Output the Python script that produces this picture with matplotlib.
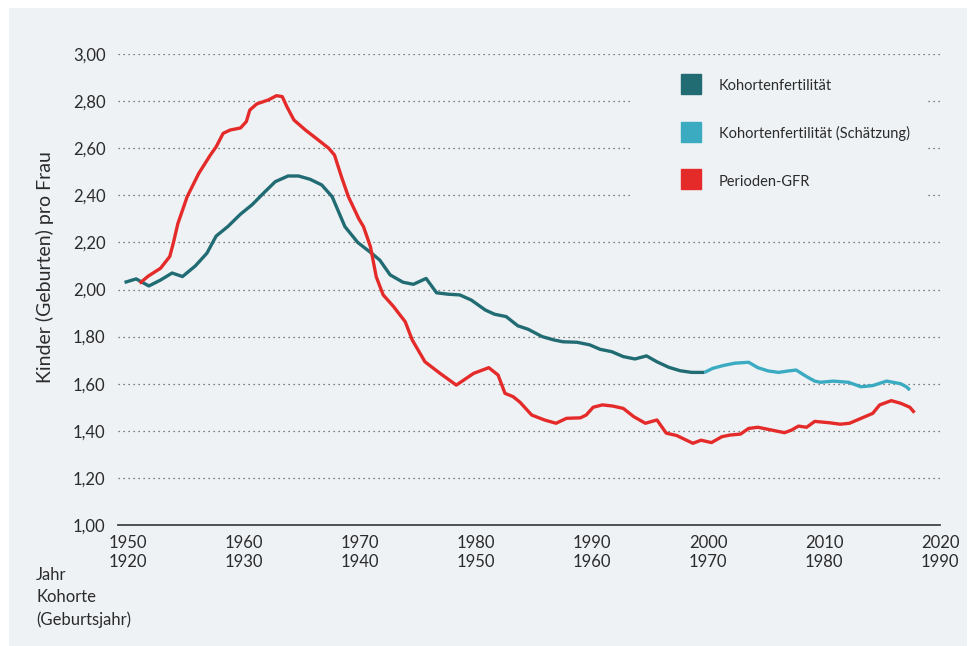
import matplotlib.pyplot as plt
from matplotlib.lines import Line2D
from matplotlib.patches import Rectangle

plt.rcParams['font.family'] = ['Lato', 'DejaVu Sans']

# Kohortenfertilität (x-Position = Jahr; Kohorte = Jahr - 30)
kohorte_jahr = [1949.7, 1950.7, 1951.8, 1952.8, 1953.8, 1954.7, 1955.8, 1956.8, 1957.6, 1958.6,
                1959.7, 1960.7, 1961.7, 1962.7, 1963.8, 1964.7, 1965.7, 1966.7, 1967.6, 1968.7,
                1969.8, 1971.0, 1971.7, 1972.6, 1973.7, 1974.6, 1975.7, 1976.6, 1977.6, 1978.6,
                1979.6, 1980.8, 1981.6, 1982.6, 1983.6, 1984.5, 1985.7, 1986.7, 1987.5, 1988.7,
                1989.8, 1990.7, 1991.7, 1992.7, 1993.7, 1994.7, 1995.6, 1996.6, 1997.6, 1998.6,
                1999.7]
kohorte_wert = [2.03, 2.045, 2.015, 2.04, 2.07, 2.055, 2.10, 2.154, 2.227, 2.267,
                2.32, 2.36, 2.41, 2.458, 2.482, 2.482, 2.468, 2.444, 2.394, 2.267,
                2.20, 2.154, 2.125, 2.062, 2.031, 2.022, 2.047, 1.986, 1.98, 1.977,
                1.955, 1.913, 1.895, 1.885, 1.846, 1.831, 1.80, 1.786, 1.778, 1.776,
                1.765, 1.746, 1.736, 1.715, 1.705, 1.718, 1.693, 1.670, 1.655, 1.648,
                1.648]

# Kohortenfertilität (Schätzung)
schaetzung_jahr = [1999.7, 2000.4, 2001.3, 2002.3, 2003.5, 2004.3, 2005.2, 2006.1, 2006.9, 2007.6,
                   2008.5, 2009.2, 2009.7, 2010.8, 2012.1, 2013.2, 2014.2, 2015.4, 2016.6, 2017.1,
                   2017.4]
schaetzung_wert = [1.648, 1.665, 1.677, 1.687, 1.691, 1.668, 1.654, 1.648, 1.654, 1.658,
                   1.63, 1.611, 1.606, 1.611, 1.606, 1.587, 1.592, 1.611, 1.60, 1.587,
                   1.573]

# Perioden-GFR
periode_jahr = [1951.0, 1951.75, 1952.8, 1953.6, 1953.9, 1954.3, 1955.1, 1956.1, 1957.1, 1957.6,
                1958.2, 1958.8, 1959.7, 1960.2, 1960.5, 1961.1, 1962.1, 1962.8, 1963.3, 1963.7,
                1964.3, 1965.3, 1966.4, 1967.3, 1967.8, 1968.4, 1969.0, 1969.9, 1970.3, 1970.9,
                1971.4, 1972.0, 1972.9, 1973.9, 1974.5, 1975.6, 1976.9, 1978.3, 1979.8, 1981.1,
                1981.9, 1982.5, 1983.2, 1983.8, 1984.8, 1985.9, 1986.9, 1987.8, 1989.0, 1989.5,
                1990.1, 1990.9, 1991.8, 1992.7, 1993.6, 1994.6, 1995.6, 1996.4, 1997.3, 1998.7,
                1999.4, 2000.3, 2001.2, 2001.9, 2002.8, 2003.5, 2004.3, 2005.5, 2006.6, 2007.2,
                2007.8, 2008.5, 2009.2, 2010.5, 2011.4, 2012.2, 2013.2, 2014.2, 2014.8, 2015.8,
                2016.6, 2017.4, 2017.8]
periode_wert = [2.026, 2.057, 2.09, 2.14, 2.196, 2.28, 2.394, 2.493, 2.571, 2.606,
                2.663, 2.677, 2.686, 2.713, 2.762, 2.788, 2.805, 2.823, 2.819, 2.776,
                2.72, 2.677, 2.635, 2.60, 2.571, 2.479, 2.394, 2.30, 2.267, 2.182,
                2.054, 1.977, 1.927, 1.863, 1.786, 1.693, 1.644, 1.594, 1.644, 1.668,
                1.637, 1.559, 1.545, 1.521, 1.467, 1.446, 1.432, 1.453, 1.455, 1.467,
                1.50, 1.51, 1.505, 1.495, 1.46, 1.432, 1.446, 1.39, 1.38, 1.347,
                1.36, 1.35, 1.375, 1.382, 1.386, 1.41, 1.415, 1.403, 1.392, 1.403,
                1.42, 1.415, 1.44, 1.434, 1.428, 1.432, 1.453, 1.474, 1.51, 1.528,
                1.517, 1.50, 1.477]

x_ticks = [1950, 1960, 1970, 1980, 1990, 2000, 2010, 2020]
y_ticks = [1.0, 1.2, 1.4, 1.6, 1.8, 2.0, 2.2, 2.4, 2.6, 2.8, 3.0]

bg = '#eef2f5'
teal = '#216b73'
hellblau = '#3aabc1'
rot = '#e42b2a'
text_col = '#2b2b2b'

W, H = 972, 646
fig = plt.figure(figsize=(W / 100, H / 100), dpi=100, facecolor='white')
fig.patches.append(Rectangle((9 / W, 0), (967 - 9) / W, 1 - 8 / H, transform=fig.transFigure,
                             facecolor=bg, edgecolor='none', zorder=-10))

ax = fig.add_axes([118 / W, 1 - 525 / H, (940 - 118) / W, (525 - 54) / H])
ax.set_facecolor('none')
ax.set_zorder(1)

ax.plot(kohorte_jahr, kohorte_wert, color=teal, lw=2.4, solid_capstyle='butt', zorder=3)
ax.plot(schaetzung_jahr, schaetzung_wert, color=hellblau, lw=2.4, solid_capstyle='butt', zorder=3)
ax.plot(periode_jahr, periode_wert, color=rot, lw=2.4, solid_capstyle='butt', zorder=3)

ax.set_xlim(1950 - 10 / 11.6, 2020)
ax.set_ylim(1.0, 3.0)

ax.set_yticks(y_ticks)
ax.set_yticklabels([f"{v:.2f}".replace('.', ',') for v in y_ticks])
ax.set_xticks(x_ticks)
ax.set_xticklabels([f"{j}\n{j - 30}" for j in x_ticks], linespacing=1.25)
ax.tick_params(axis='both', length=0, labelsize=12, colors=text_col)
ax.tick_params(axis='y', pad=9)
ax.tick_params(axis='x', pad=7)

ax.yaxis.grid(True, color='#555555', linestyle=(0, (1, 3)), lw=0.9)
ax.set_axisbelow(True)
for side in ['top', 'right', 'left']:
    ax.spines[side].set_visible(False)
ax.spines['bottom'].set_color('#444444')
ax.spines['bottom'].set_linewidth(1.3)
ax.spines['bottom'].set_zorder(2)

# Fläche hinter der Legende
ax.add_artist(Rectangle((630 / W, 1 - 218 / H), (925 - 630) / W, (218 - 62) / H,
                        transform=fig.transFigure, facecolor=bg, edgecolor='none', zorder=1))

handles = [Line2D([], [], marker='s', markersize=15, color=c, linestyle='none')
           for c in (teal, hellblau, rot)]
labels = ['Kohortenfertilität', 'Kohortenfertilität (Schätzung)', 'Perioden-GFR']
ax.legend(handles, labels, loc='upper left', bbox_to_anchor=(680 / W, 1 - 77 / H),
          bbox_transform=fig.transFigure, frameon=False, fontsize=10.5, borderpad=0,
          borderaxespad=0, handlelength=1.44, handleheight=1.44, handletextpad=1.2,
          labelspacing=2.1, labelcolor=text_col)

fig.text(45 / W, 1 - 267 / H, 'Kinder (Geburten) pro Frau', rotation=90, ha='center', va='center',
         fontsize=14, color=text_col)
fig.text(36 / W, 1 - 567 / H, 'Jahr\nKohorte\n(Geburtsjahr)', ha='left', va='top',
         fontsize=12, color=text_col, linespacing=1.45)

fig.savefig('out.png', dpi=100, facecolor='white')
